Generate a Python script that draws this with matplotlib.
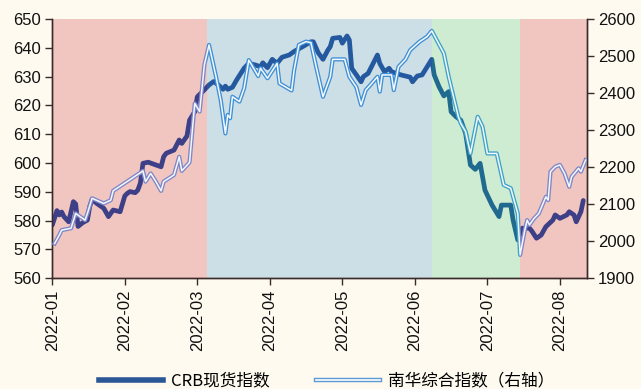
import matplotlib
matplotlib.use("Agg")
import matplotlib.pyplot as plt
import pandas as pd
from matplotlib.lines import Line2D
from matplotlib.patches import Rectangle

plt.rcParams['font.family'] = ['Liberation Sans', 'Noto Sans CJK SC', 'DejaVu Sans']

# CRB spot index (left axis)
crb_dates = ["01-01", "01-03", "01-04", "01-05", "01-06", "01-08", "01-10", "01-11", "01-12", "01-14",
             "01-16", "01-17", "01-18", "01-20", "01-23", "01-25", "01-27", "01-30", "02-01", "02-02",
             "02-03", "02-05", "02-06", "02-07", "02-08", "02-10", "02-15", "02-16", "02-17", "02-20",
             "02-22", "02-23", "02-25", "02-26", "02-28", "03-01", "03-04", "03-06", "03-08", "03-10",
             "03-12", "03-13", "03-14", "03-16", "03-18", "03-21", "03-23", "03-26", "03-28", "03-29",
             "03-31", "04-02", "04-04", "04-06", "04-09", "04-11", "04-15", "04-18", "04-19", "04-21",
             "04-23", "04-25", "04-26", "04-27", "04-30", "05-01", "05-03", "05-04", "05-05", "05-07",
             "05-09", "05-10", "05-12", "05-16", "05-17", "05-19", "05-21", "05-22", "05-26", "05-30",
             "05-31", "06-02", "06-04", "06-08", "06-09", "06-11", "06-13", "06-15", "06-16", "06-18",
             "06-20", "06-22", "06-24", "06-26", "06-28", "06-30", "07-03", "07-06", "07-07", "07-11",
             "07-12", "07-14", "07-16", "07-19", "07-20", "07-22", "07-24", "07-26", "07-29", "07-30",
             "08-01", "08-04", "08-05", "08-07", "08-08", "08-10", "08-11"]
crb_values = [578.5, 583.5, 582.0, 583.0, 581.4, 579.6, 586.6, 585.8, 578.0, 579.3,
              580.2, 584.9, 587.4, 586.0, 584.3, 581.4, 583.7, 583.1, 588.6, 589.5,
              590.1, 589.7, 590.6, 593.0, 599.9, 600.3, 598.7, 602.2, 603.4, 604.5,
              608.0, 606.8, 609.4, 614.9, 617.8, 623.0, 625.4, 627.1, 628.3, 627.1,
              625.6, 626.7, 625.6, 626.3, 629.1, 632.9, 634.6, 634.0, 633.4, 634.8,
              633.1, 636.0, 634.6, 636.7, 637.5, 638.7, 640.6, 642.1, 642.1, 638.3,
              636.0, 639.2, 640.4, 643.3, 643.6, 641.6, 644.1, 642.7, 632.9, 630.6,
              628.2, 630.0, 631.1, 637.5, 634.6, 631.7, 632.9, 631.7, 630.6, 629.8,
              628.2, 630.2, 630.6, 636.0, 630.6, 626.5, 623.3, 624.8, 617.8, 616.1,
              614.9, 610.3, 599.3, 597.8, 599.9, 590.6, 585.4, 581.4, 585.4, 585.4,
              580.2, 573.3, 577.4, 577.4, 576.4, 573.9, 575.0, 577.9, 580.2, 582.0,
              580.8, 582.0, 583.1, 582.0, 579.6, 583.1, 587.0]

# Nanhua composite index (right axis)
nh_dates = ["01-02", "01-04", "01-05", "01-09", "01-11", "01-15", "01-16", "01-18", "01-23", "01-26",
            "01-27", "02-07", "02-08", "02-09", "02-11", "02-13", "02-15", "02-16", "02-20", "02-22",
            "02-23", "02-26", "02-28", "03-02", "03-04", "03-06", "03-09", "03-11", "03-13", "03-14",
            "03-15", "03-16", "03-19", "03-21", "03-23", "03-27", "03-28", "03-31", "04-04", "04-05",
            "04-10", "04-11", "04-13", "04-16", "04-18", "04-20", "04-23", "04-26", "04-27", "05-02",
            "05-04", "05-07", "05-09", "05-11", "05-13", "05-16", "05-17", "05-18", "05-22", "05-23",
            "05-25", "05-28", "05-30", "06-03", "06-06", "06-08", "06-13", "06-15", "06-16", "06-19",
            "06-20", "06-22", "06-24", "06-27", "06-29", "07-01", "07-05", "07-08", "07-11", "07-14",
            "07-15", "07-17", "07-18", "07-19", "07-21", "07-23", "07-26", "07-27", "07-28", "07-30",
            "08-01", "08-03", "08-05", "08-06", "08-09", "08-10", "08-12"]
nh_values = [1994, 2017, 2030, 2035, 2075, 2057, 2075, 2116, 2102, 2111,
             2136, 2185, 2190, 2161, 2183, 2161, 2136, 2161, 2179, 2228,
             2190, 2213, 2372, 2350, 2476, 2530, 2444, 2381, 2291, 2341,
             2332, 2390, 2377, 2413, 2489, 2446, 2467, 2440, 2480, 2426,
             2407, 2460, 2530, 2539, 2536, 2476, 2390, 2444, 2491, 2491,
             2444, 2416, 2368, 2408, 2422, 2444, 2404, 2449, 2449, 2408,
             2471, 2491, 2516, 2539, 2552, 2568, 2507, 2444, 2417, 2336,
             2318, 2296, 2237, 2336, 2309, 2237, 2237, 2152, 2143, 2075,
             1963, 2030, 2057, 2044, 2062, 2075, 2120, 2111, 2188, 2201,
             2206, 2183, 2147, 2174, 2197, 2188, 2219]

# Market phases: start, end, background, CRB colour, Nanhua colour
phase_bounds = ["01-01", "03-05", "06-08", "07-15", "08-13"]
phase_bg = ["#f2c6c0", "#cddfe6", "#ceecd2", "#f2c6c0"]
phase_crb = ["#3d3f87", "#2459a0", "#1f6a8e", "#3d3f87"]
phase_nh = ["#7f86c8", "#3f90d6", "#3ea2c8", "#7f86c8"]

month_labels = ["2022-01", "2022-02", "2022-03", "2022-04",
                "2022-05", "2022-06", "2022-07", "2022-08"]


def month_pos(md):
    ts = pd.Timestamp("2022-" + md)
    return (ts.month - 1) + (ts.day - 1) / ts.days_in_month


crb_x = [month_pos(d) for d in crb_dates]
nh_x = [month_pos(d) for d in nh_dates]
bx = [month_pos(d) for d in phase_bounds]
x_end = 7.37

fig = plt.figure(figsize=(6.41, 3.89), dpi=100, facecolor="#fffaf0")
ax = fig.add_axes([0.0816, 0.2846, 0.8337, 0.6666])
ax.set_facecolor("#fffaf0")
ax2 = ax.twinx()

for i in range(4):
    ax.axvspan(bx[i], min(bx[i + 1], x_end), color=phase_bg[i], lw=0, zorder=0)


def clip_rect(axis, i):
    r = Rectangle((bx[i], 0), min(bx[i + 1], x_end) - bx[i], 1,
                  transform=axis.get_xaxis_transform(), facecolor="none", edgecolor="none")
    return r


for i in range(4):
    ln, = ax.plot(crb_x, crb_values, color=phase_crb[i], lw=3.4, solid_joinstyle="round",
                  solid_capstyle="round", zorder=3)
    ln.set_clip_path(clip_rect(ax, i))
    lo, = ax2.plot(nh_x, nh_values, color=phase_nh[i], lw=3.0, zorder=3)
    lo.set_clip_path(clip_rect(ax2, i))
    li, = ax2.plot(nh_x, nh_values, color="#f4f8fb", lw=1.1, zorder=4)
    li.set_clip_path(clip_rect(ax2, i))

ax.set_xlim(0, x_end)
ax.set_ylim(560, 650)
ax2.set_ylim(1900, 2600)
ax.set_yticks(range(560, 651, 10))
ax2.set_yticks(range(1900, 2601, 100))
ax.set_xticks(range(8))
ax.set_xticklabels(month_labels, rotation=90)

spine_c = "#3a2a2a"
for a in (ax, ax2):
    a.spines["top"].set_visible(False)
    for s in ("left", "right", "bottom"):
        a.spines[s].set_color(spine_c)
        a.spines[s].set_linewidth(1.0)
    a.tick_params(axis="both", direction="out", length=5, width=1.0, color=spine_c,
                  labelsize=12, labelcolor="#111111", pad=3)

h1 = Line2D([], [], color="#2b5797", lw=4)
h2o = Line2D([], [], color="#5b9bd5", lw=3.2)
h2i = Line2D([], [], color="#ffffff", lw=1.2)
fig.legend([h1, (h2o, h2i)], ["CRB现货指数", "南华综合指数（右轴）"],
           loc="lower center", bbox_to_anchor=(0.51, -0.04), ncol=2, frameon=False,
           handlelength=3.8, columnspacing=2.8, handletextpad=0.5,
           prop={"family": ["Noto Sans CJK SC", "DejaVu Sans"], "size": 12})

fig.savefig("out.png", dpi=100, facecolor=fig.get_facecolor())
